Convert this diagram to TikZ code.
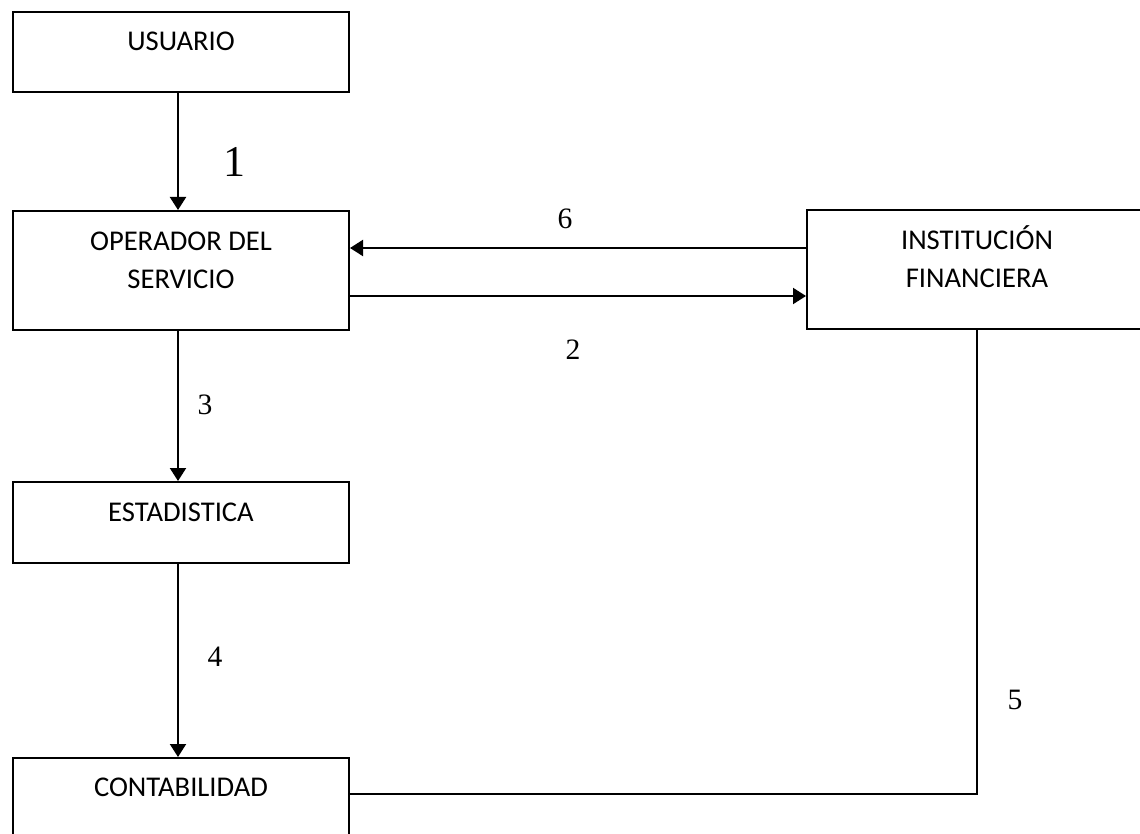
\documentclass[tikz,border=0pt]{standalone}
\usepackage{fontspec}
\setmainfont{Carlito}
\newfontfamily\numfont{Liberation Serif}
\usepackage{tikz}
\usetikzlibrary{arrows.meta,positioning,calc}
\tikzset{
    caja/.style={rectangle, draw=black, line width=1pt, inner sep=0pt, minimum width=168pt, text depth=20.8pt, align=center, font=\fontsize{14.3}{19}\selectfont},
    flecha/.style={line width=1pt, -{Triangle[length=6.5pt,width=8pt]}},
    linea/.style={line width=0.6pt},
    num/.style={font=\numfont\fontsize{14.8}{16}\selectfont},
}

\begin{document}
\begin{tikzpicture}[x=0.5pt, y=-0.5pt]
    \useasboundingbox (0,0) rectangle (1140,834);

    \node[caja, anchor=north west, text height=19.2pt] (usuario) at (12,11) {USUARIO};
    \node[caja, anchor=north west, text height=38.7pt] (operador) at (12,210) {OPERADOR DEL\\SERVICIO};
    \node[caja, anchor=north west, text height=38.7pt, minimum width=170pt] (institucion) at (806,209) {INSTITUCIÓN\\FINANCIERA};
    \node[caja, anchor=north west, text height=19.7pt] (estadistica) at (12,481) {ESTADISTICA};
    \node[caja, anchor=north west, text height=19.2pt] (contabilidad) at (12,757) {CONTABILIDAD};

    \draw[flecha] ([xshift=-1.5pt]usuario.south) -- ([xshift=-1.5pt]operador.north);
    \draw[flecha] ([yshift=-19.5pt]institucion.north west) -- ([yshift=-19.5pt]institucion.north west -| operador.east);
    \draw[flecha] ([yshift=-43pt]operador.north east) -- ([yshift=-43pt]operador.north east -| institucion.west);
    \draw[flecha] ([xshift=-1.5pt]operador.south) -- ([xshift=-1.5pt]estadistica.north);
    \draw[flecha] ([xshift=-1.5pt]estadistica.south) -- ([xshift=-1.5pt]contabilidad.north);
    \draw[linea] (institucion.south) |- ([yshift=-18.5pt]contabilidad.north east);

    % numeros
    \node[num, font=\numfont\fontsize{22}{24}\selectfont] (n1) at (234,162) {1};
    \node[num] (n2) at (573,350) {2};
    \node[num] (n3) at (205,405) {3};
    \node[num] (n4) at (215,657) {4};
    \node[num] (n5) at (1015,700) {5};
    \node[num] (n6) at (565,219) {6};
\end{tikzpicture}
\end{document}
